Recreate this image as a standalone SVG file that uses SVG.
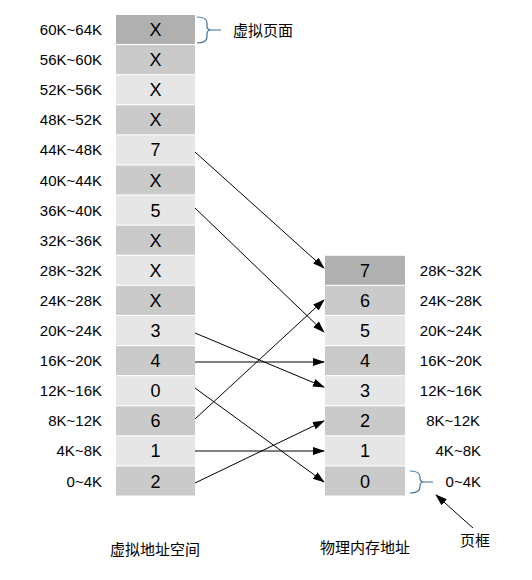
<svg xmlns="http://www.w3.org/2000/svg" width="532" height="580" viewBox="0 0 532 580">
<style>
text{font-family:"Liberation Sans","Noto Sans CJK SC",sans-serif;fill:#000}
.lbl{font-size:15px}
.ll{text-anchor:end}
.cell{font-size:18px;text-anchor:middle}
.cn{font-size:15px}
.d0{fill:#b0b0b0}
.d1{fill:#cacaca}
.d2{fill:#e6e6e6}
.brace{fill:none;stroke:#41719c;stroke-width:1.2}
.con{stroke:#000;stroke-width:1;fill:none}
</style>
<defs>
<marker id="ah" markerWidth="12" markerHeight="10" refX="11" refY="4" orient="auto" markerUnits="userSpaceOnUse">
<path d="M0,0 L12,4 L0,8 Z" fill="#000"/>
</marker>
</defs>
<g id="virtual">
<g id="v15"><rect class="d0" x="116" y="15" width="79" height="29"/><text class="cell" x="155.5" y="36">X</text><text class="lbl ll" x="102" y="35">60K~64K</text></g>
<g id="v14"><rect class="d1" x="116" y="45.1" width="79" height="29"/><text class="cell" x="155.5" y="66.1">X</text><text class="lbl ll" x="102" y="65.1">56K~60K</text></g>
<g id="v13"><rect class="d2" x="116" y="75.2" width="79" height="29"/><text class="cell" x="155.5" y="96.2">X</text><text class="lbl ll" x="102" y="95.2">52K~56K</text></g>
<g id="v12"><rect class="d1" x="116" y="105.3" width="79" height="29"/><text class="cell" x="155.5" y="126.3">X</text><text class="lbl ll" x="102" y="125.3">48K~52K</text></g>
<g id="v11"><rect class="d2" x="116" y="135.4" width="79" height="29"/><text class="cell" x="155.5" y="156.4">7</text><text class="lbl ll" x="102" y="155.4">44K~48K</text></g>
<g id="v10"><rect class="d1" x="116" y="165.5" width="79" height="29"/><text class="cell" x="155.5" y="186.5">X</text><text class="lbl ll" x="102" y="185.5">40K~44K</text></g>
<g id="v9"><rect class="d2" x="116" y="195.6" width="79" height="29"/><text class="cell" x="155.5" y="216.6">5</text><text class="lbl ll" x="102" y="215.6">36K~40K</text></g>
<g id="v8"><rect class="d1" x="116" y="225.7" width="79" height="29"/><text class="cell" x="155.5" y="246.7">X</text><text class="lbl ll" x="102" y="245.7">32K~36K</text></g>
<g id="v7"><rect class="d2" x="116" y="255.8" width="79" height="29"/><text class="cell" x="155.5" y="276.8">X</text><text class="lbl ll" x="102" y="275.8">28K~32K</text></g>
<g id="v6"><rect class="d1" x="116" y="285.9" width="79" height="29"/><text class="cell" x="155.5" y="306.9">X</text><text class="lbl ll" x="102" y="305.9">24K~28K</text></g>
<g id="v5"><rect class="d2" x="116" y="316" width="79" height="29"/><text class="cell" x="155.5" y="337">3</text><text class="lbl ll" x="102" y="336">20K~24K</text></g>
<g id="v4"><rect class="d1" x="116" y="346.1" width="79" height="29"/><text class="cell" x="155.5" y="367.1">4</text><text class="lbl ll" x="102" y="366.1">16K~20K</text></g>
<g id="v3"><rect class="d2" x="116" y="376.2" width="79" height="29"/><text class="cell" x="155.5" y="397.2">0</text><text class="lbl ll" x="102" y="396.2">12K~16K</text></g>
<g id="v2"><rect class="d1" x="116" y="406.3" width="79" height="29"/><text class="cell" x="155.5" y="427.3">6</text><text class="lbl ll" x="102" y="426.3">8K~12K</text></g>
<g id="v1"><rect class="d2" x="116" y="436.4" width="79" height="29"/><text class="cell" x="155.5" y="457.4">1</text><text class="lbl ll" x="102" y="456.4">4K~8K</text></g>
<g id="v0"><rect class="d1" x="116" y="466.5" width="79" height="29"/><text class="cell" x="155.5" y="487.5">2</text><text class="lbl ll" x="102" y="486.5">0~4K</text></g>
</g>
<g id="physical">
<g id="p7"><rect class="d0" x="325" y="255.8" width="80" height="29"/><text class="cell" x="365" y="276.8">7</text><text class="lbl ll" x="482" y="275.8">28K~32K</text></g>
<g id="p6"><rect class="d1" x="325" y="285.9" width="80" height="29"/><text class="cell" x="365" y="306.9">6</text><text class="lbl ll" x="482" y="305.9">24K~28K</text></g>
<g id="p5"><rect class="d2" x="325" y="316" width="80" height="29"/><text class="cell" x="365" y="337">5</text><text class="lbl ll" x="482" y="336">20K~24K</text></g>
<g id="p4"><rect class="d1" x="325" y="346.1" width="80" height="29"/><text class="cell" x="365" y="367.1">4</text><text class="lbl ll" x="482" y="366.1">16K~20K</text></g>
<g id="p3"><rect class="d2" x="325" y="376.2" width="80" height="29"/><text class="cell" x="365" y="397.2">3</text><text class="lbl ll" x="482" y="396.2">12K~16K</text></g>
<g id="p2"><rect class="d1" x="325" y="406.3" width="80" height="29"/><text class="cell" x="365" y="427.3">2</text><text class="lbl ll" x="480" y="426.3">8K~12K</text></g>
<g id="p1"><rect class="d2" x="325" y="436.4" width="80" height="29"/><text class="cell" x="365" y="457.4">1</text><text class="lbl ll" x="481" y="456.4">4K~8K</text></g>
<g id="p0"><rect class="d1" x="325" y="466.5" width="80" height="29"/><text class="cell" x="365" y="487.5">0</text><text class="lbl ll" x="481" y="486.5">0~4K</text></g>
</g>
<g id="annotations">
<g id="vpage"><path class="brace" d="M197,17 Q207,17 207,23 L207,26 Q207,30 211,30 L221,30 M211,30 Q207,30 207,34 L207,37 Q207,43 197,43"/><text class="cn" x="233" y="35.5">虚拟页面</text></g>
<g id="frame"><path class="brace" d="M410,471 Q420,471 420,477 L420,478 Q420,482 424,482 L433,482 M424,482 Q420,482 420,486 L420,487 Q420,493 410,493"/><text class="cn" x="460" y="546">页框</text></g>
<text class="cn" x="110" y="555">虚拟地址空间</text>
<text class="cn" x="320" y="553">物理内存地址</text>
</g>
<g id="connectors">
<line class="con" x1="195" y1="152" x2="324" y2="268" marker-end="url(#ah)"/>
<line class="con" x1="195" y1="208" x2="324" y2="332" marker-end="url(#ah)"/>
<line class="con" x1="195" y1="333" x2="324" y2="387" marker-end="url(#ah)"/>
<line class="con" x1="195" y1="362" x2="324" y2="362" marker-end="url(#ah)" stroke-width="1.4"/>
<line class="con" x1="195" y1="388" x2="324" y2="482" marker-end="url(#ah)"/>
<line class="con" x1="195" y1="419" x2="324" y2="300" marker-end="url(#ah)"/>
<line class="con" x1="195" y1="451" x2="324" y2="451" marker-end="url(#ah)"/>
<line class="con" x1="195" y1="483" x2="324" y2="421" marker-end="url(#ah)"/>
<line class="con" x1="473" y1="528" x2="436" y2="495" marker-end="url(#ah)"/>
</g>
</svg>
